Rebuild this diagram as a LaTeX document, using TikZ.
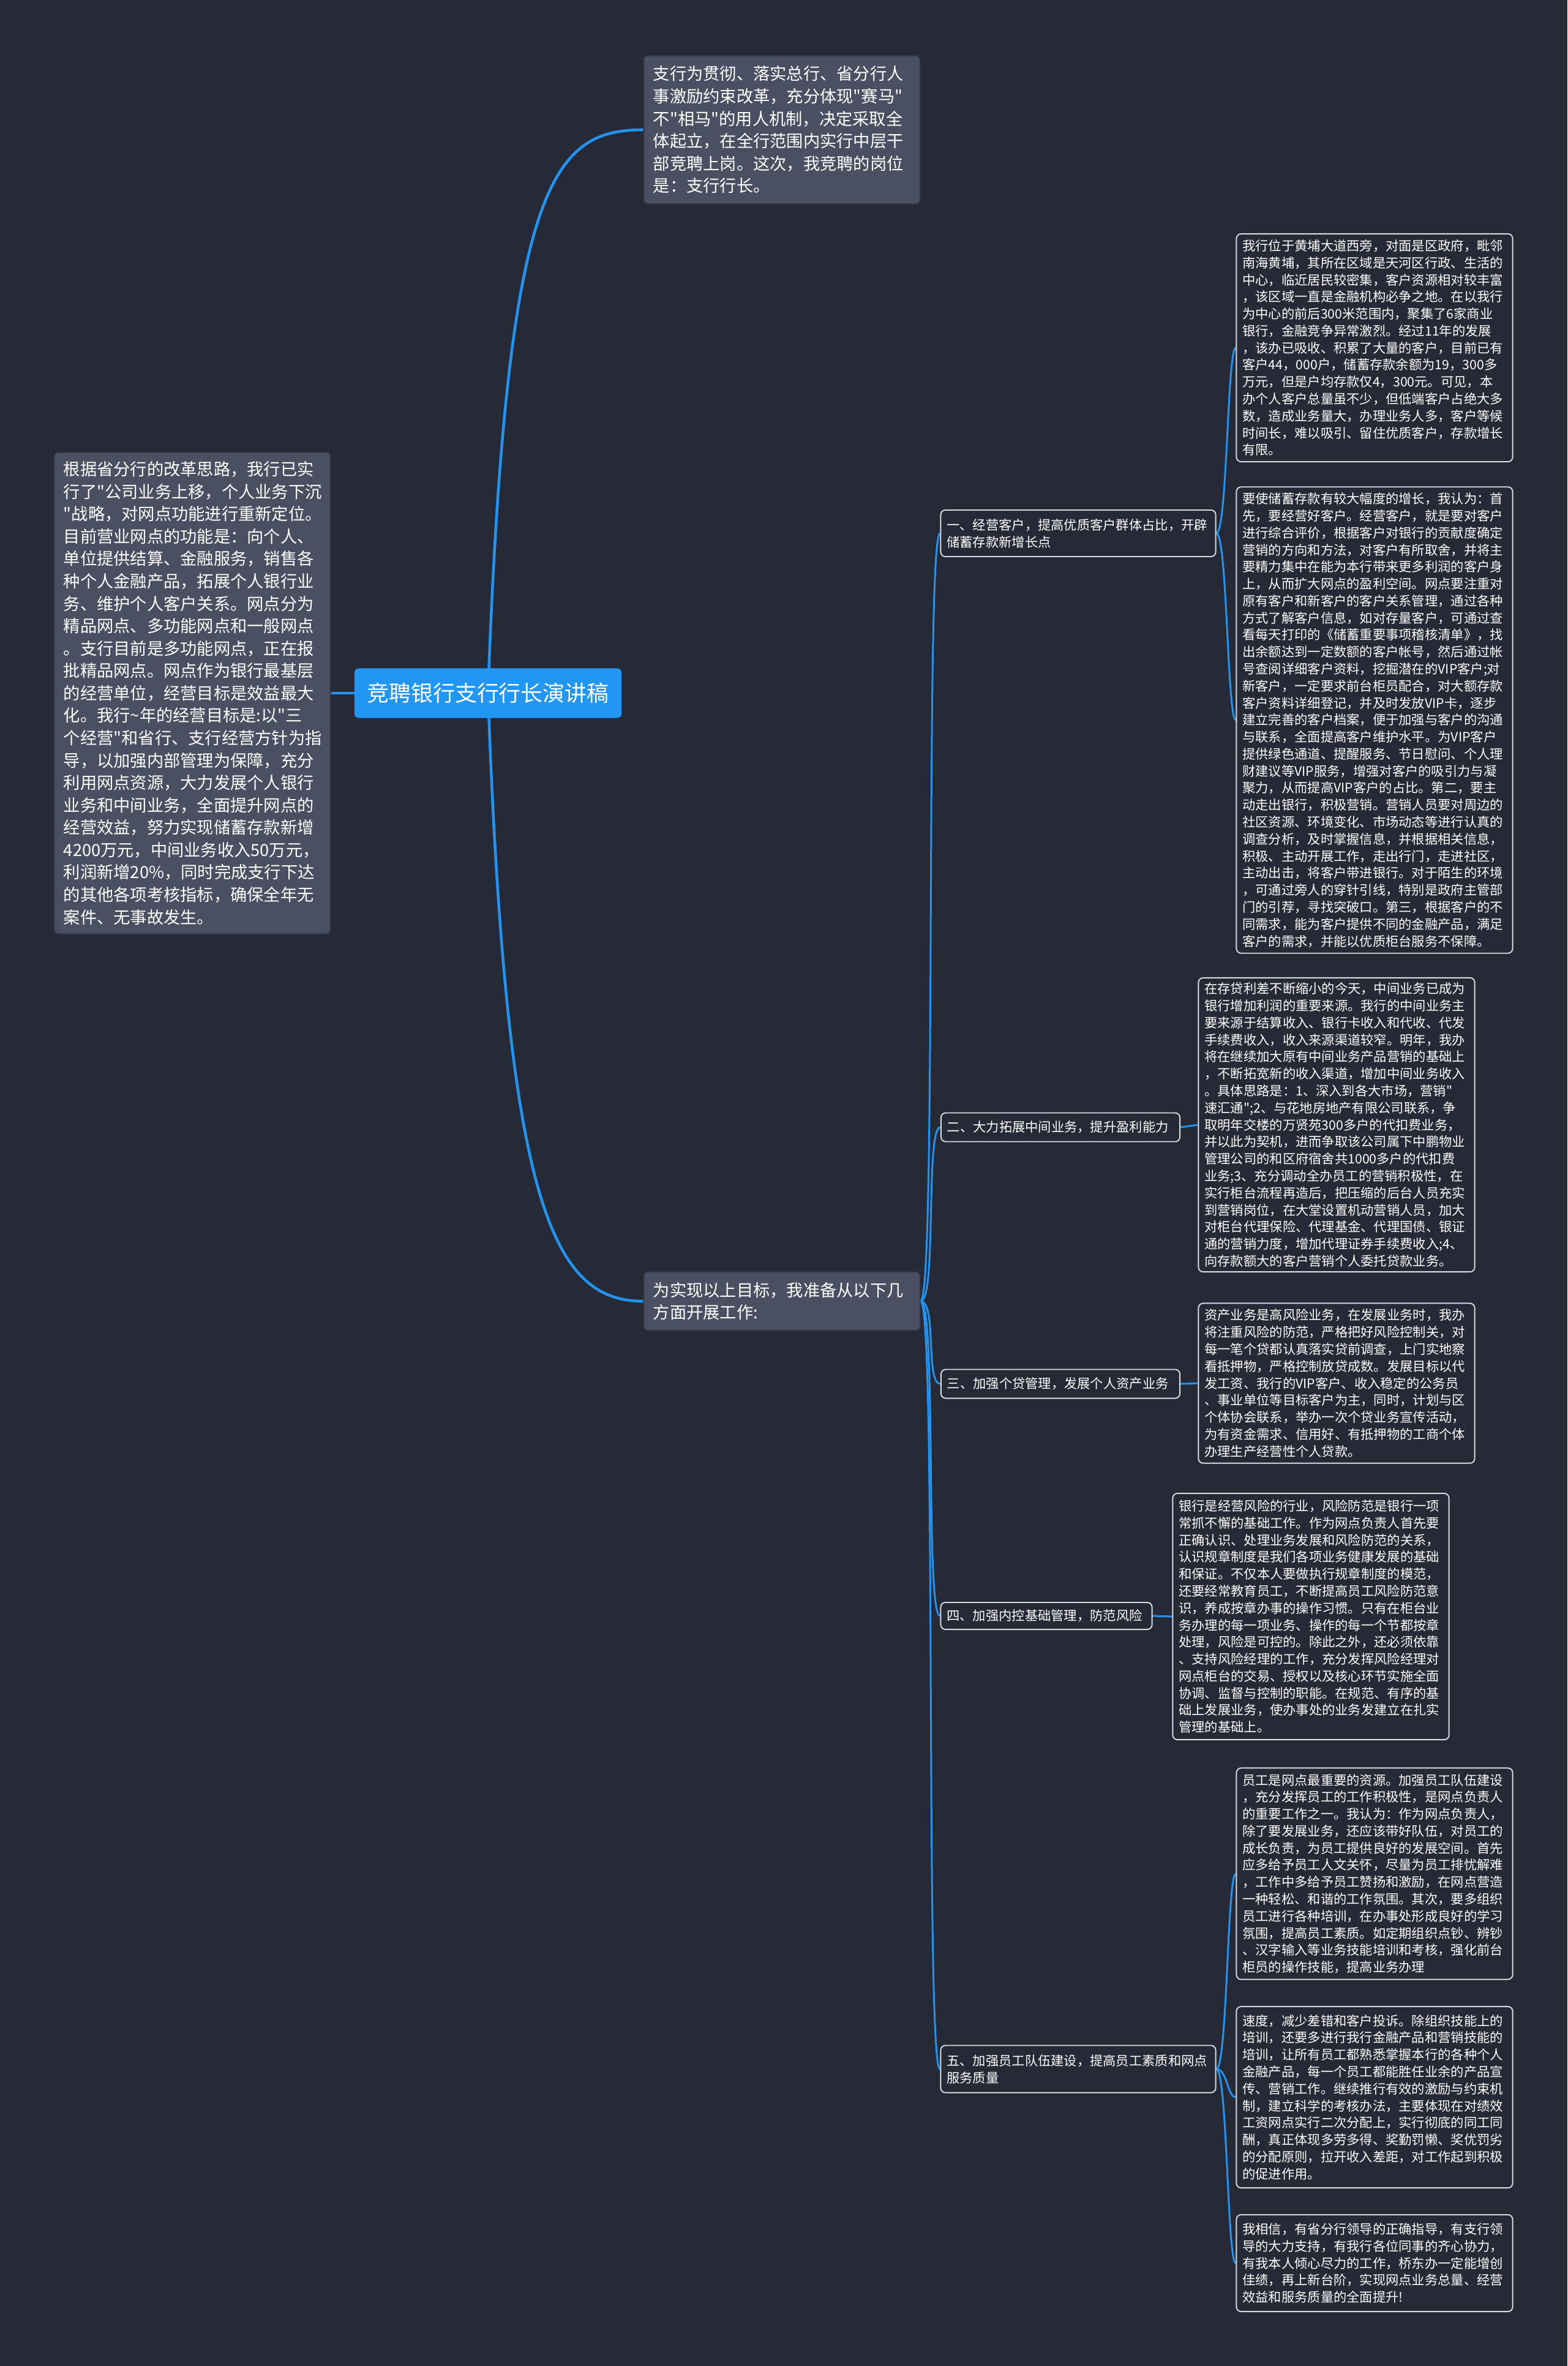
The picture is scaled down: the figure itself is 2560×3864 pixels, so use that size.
\documentclass[tikz,border=0pt]{standalone}
\usepackage{fontspec}
\setmainfont{Noto Sans CJK SC}[Ligatures=TeXOff]
\usetikzlibrary{backgrounds}

\definecolor{bgnavy}{HTML}{262A37}
\definecolor{hubgray}{HTML}{4A5061}
\definecolor{hubedge}{HTML}{333846}
\definecolor{rootblue}{HTML}{2196F3}
\definecolor{linkblue}{HTML}{2393F0}
\definecolor{leafedge}{HTML}{D8DADF}

\begin{document}
\begin{tikzpicture}[x=0.01cm,y=-0.01cm,
  root/.style={fill=rootblue,rounded corners=2pt,text=white,font=\fontsize{10.2pt}{12pt}\selectfont,minimum width=4.36cm,minimum height=0.81cm,inner sep=0pt},
  hub/.style={draw=hubedge,line width=0.5pt,fill=hubgray,rounded corners=2pt,text=white,align=left,font=\fontsize{7.75pt}{10.4pt}\selectfont,text width=4.2cm,inner xsep=0.155cm,inner ysep=0pt},
  topic/.style={draw=leafedge,line width=0.55pt,fill=bgnavy,rounded corners=2.2pt,text=white,align=left,font=\fontsize{6.05pt}{7.9pt}\selectfont,inner xsep=0.1cm,inner ysep=0pt},
  leaf/.style={topic,text width=4.31cm},
  link/.style={draw=linkblue,line width=1.3pt},
  twig/.style={draw=linkblue,line width=0.85pt}
]
% centre and first level
\node[root] (root) at (797,1132) {竞聘银行支行行长演讲稿};
\node[hub,minimum height=2.42cm] (intro) at (1277,212) {支行为贯彻、落实总行、省分行人\\
事激励约束改革，充分体现"赛马"\\
不"相马"的用人机制，决定采取全\\
体起立，在全行范围内实行中层干\\
部竞聘上岗。这次，我竞聘的岗位\\
是：支行行长。};
\node[hub,minimum height=7.86cm] (mission) at (314,1132) {根据省分行的改革思路，我行已实\\
行了"公司业务上移，个人业务下沉\\
"战略，对网点功能进行重新定位。\\
目前营业网点的功能是：向个人、\\
单位提供结算、金融服务，销售各\\
种个人金融产品，拓展个人银行业\\
务、维护个人客户关系。网点分为\\
精品网点、多功能网点和一般网点\\
。支行目前是多功能网点，正在报\\
批精品网点。网点作为银行最基层\\
的经营单位，经营目标是效益最大\\
化。我行\textasciitilde 年的经营目标是:以"三\\
个经营"和省行、支行经营方针为指\\
导，以加强内部管理为保障，充分\\
利用网点资源，大力发展个人银行\\
业务和中间业务，全面提升网点的\\
经营效益，努力实现储蓄存款新增\\
4200万元，中间业务收入50万元，\\
利润新增20\%，同时完成支行下达\\
的其他各项考核指标，确保全年无\\
案件、无事故发生。};
\node[hub,minimum height=0.96cm] (plan) at (1277,2125) {为实现以上目标，我准备从以下几\\
方面开展工作:};

% five tasks
\node[topic,text width=4.29cm,minimum height=0.76cm] (t1) at (1761,871) {一、经营客户，提高优质客户群体占比，开辟\\
储蓄存款新增长点};
\node[topic,text width=3.70cm,minimum height=0.47cm] (t2) at (1732,1841) {二、大力拓展中间业务，提升盈利能力};
\node[topic,text width=3.70cm,minimum height=0.47cm] (t3) at (1732,2260) {三、加强个贷管理，发展个人资产业务};
\node[topic,text width=3.25cm,minimum height=0.44cm] (t4) at (1709,2639) {四、加强内控基础管理，防范风险};
\node[topic,text width=4.29cm,minimum height=0.77cm] (t5) at (1761,3379) {五、加强员工队伍建设，提高员工素质和网点\\
服务质量};

% details
\node[leaf,minimum height=3.72cm] (a1) at (2245,568) {我行位于黄埔大道西旁，对面是区政府，毗邻\\
南海黄埔，其所在区域是天河区行政、生活的\\
中心，临近居民较密集，客户资源相对较丰富\\
，该区域一直是金融机构必争之地。在以我行\\
为中心的前后300米范围内，聚集了6家商业\\
银行，金融竞争异常激烈。经过11年的发展\\
，该办已吸收、积累了大量的客户，目前已有\\
客户44，000户，储蓄存款余额为19，300多\\
万元，但是户均存款仅4，300元。可见，本\\
办个人客户总量虽不少，但低端客户占绝大多\\
数，造成业务量大，办理业务人多，客户等候\\
时间长，难以吸引、留住优质客户，存款增长\\
有限。};
\node[leaf,minimum height=7.61cm] (a2) at (2245,1176) {要使储蓄存款有较大幅度的增长，我认为：首\\
先，要经营好客户。经营客户，就是要对客户\\
进行综合评价，根据客户对银行的贡献度确定\\
营销的方向和方法，对客户有所取舍，并将主\\
要精力集中在能为本行带来更多利润的客户身\\
上，从而扩大网点的盈利空间。网点要注重对\\
原有客户和新客户的客户关系管理，通过各种\\
方式了解客户信息，如对存量客户，可通过查\\
看每天打印的《储蓄重要事项稽核清单》，找\\
出余额达到一定数额的客户帐号，然后通过帐\\
号查阅详细客户资料，挖掘潜在的VIP客户;对\\
新客户，一定要求前台柜员配合，对大额存款\\
客户资料详细登记，并及时发放VIP卡，逐步\\
建立完善的客户档案，便于加强与客户的沟通\\
与联系，全面提高客户维护水平。为VIP客户\\
提供绿色通道、提醒服务、节日慰问、个人理\\
财建议等VIP服务，增强对客户的吸引力与凝\\
聚力，从而提高VIP客户的占比。第二，要主\\
动走出银行，积极营销。营销人员要对周边的\\
社区资源、环境变化、市场动态等进行认真的\\
调查分析，及时掌握信息，并根据相关信息，\\
积极、主动开展工作，走出行门，走进社区，\\
主动出击，将客户带进银行。对于陌生的环境\\
，可通过旁人的穿针引线，特别是政府主管部\\
门的引荐，寻找突破口。第三，根据客户的不\\
同需求，能为客户提供不同的金融产品，满足\\
客户的需求，并能以优质柜台服务不保障。};
\node[leaf,minimum height=4.80cm] (b) at (2183,1837) {在存贷利差不断缩小的今天，中间业务已成为\\
银行增加利润的重要来源。我行的中间业务主\\
要来源于结算收入、银行卡收入和代收、代发\\
手续费收入，收入来源渠道较窄。明年，我办\\
将在继续加大原有中间业务产品营销的基础上\\
，不断拓宽新的收入渠道，增加中间业务收入\\
。具体思路是：1、深入到各大市场，营销"\\
速汇通";2、与花地房地产有限公司联系，争\\
取明年交楼的万贤苑300多户的代扣费业务，\\
并以此为契机，进而争取该公司属下中鹏物业\\
管理公司的和区府宿舍共1000多户的代扣费\\
业务;3、充分调动全办员工的营销积极性，在\\
实行柜台流程再造后，把压缩的后台人员充实\\
到营销岗位，在大堂设置机动营销人员，加大\\
对柜台代理保险、代理基金、代理国债、银证\\
通的营销力度，增加代理证券手续费收入;4、\\
向存款额大的客户营销个人委托贷款业务。};
\node[leaf,minimum height=2.61cm] (c) at (2183,2259) {资产业务是高风险业务，在发展业务时，我办\\
将注重风险的防范，严格把好风险控制关，对\\
每一笔个贷都认真落实贷前调查，上门实地察\\
看抵押物，严格控制放贷成数。发展目标以代\\
发工资、我行的VIP客户、收入稳定的公务员\\
、事业单位等目标客户为主，同时，计划与区\\
个体协会联系，举办一次个贷业务宣传活动，\\
为有资金需求、信用好、有抵押物的工商个体\\
办理生产经营性个人贷款。};
\node[leaf,minimum height=4.02cm] (d) at (2141,2640) {银行是经营风险的行业，风险防范是银行一项\\
常抓不懈的基础工作。作为网点负责人首先要\\
正确认识、处理业务发展和风险防范的关系，\\
认识规章制度是我们各项业务健康发展的基础\\
和保证。不仅本人要做执行规章制度的模范，\\
还要经常教育员工，不断提高员工风险防范意\\
识，养成按章办事的操作习惯。只有在柜台业\\
务办理的每一项业务、操作的每一个节都按章\\
处理，风险是可控的。除此之外，还必须依靠\\
、支持风险经理的工作，充分发挥风险经理对\\
网点柜台的交易、授权以及核心环节实施全面\\
协调、监督与控制的职能。在规范、有序的基\\
础上发展业务，使办事处的业务发建立在扎实\\
管理的基础上。};
\node[leaf,minimum height=3.45cm] (e1) at (2245,3060) {员工是网点最重要的资源。加强员工队伍建设\\
，充分发挥员工的工作积极性，是网点负责人\\
的重要工作之一。我认为：作为网点负责人，\\
除了要发展业务，还应该带好队伍，对员工的\\
成长负责，为员工提供良好的发展空间。首先\\
应多给予员工人文关怀，尽量为员工排忧解难\\
，工作中多给予员工赞扬和激励，在网点营造\\
一种轻松、和谐的工作氛围。其次，要多组织\\
员工进行各种培训，在办事处形成良好的学习\\
氛围，提高员工素质。如定期组织点钞、辨钞\\
、汉字输入等业务技能培训和考核，强化前台\\
柜员的操作技能，提高业务办理};
\node[leaf,minimum height=2.96cm] (e2) at (2245,3425) {速度，减少差错和客户投诉。除组织技能上的\\
培训，还要多进行我行金融产品和营销技能的\\
培训，让所有员工都熟悉掌握本行的各种个人\\
金融产品，每一个员工都能胜任业余的产品宣\\
传、营销工作。继续推行有效的激励与约束机\\
制，建立科学的考核办法，主要体现在对绩效\\
工资网点实行二次分配上，实行彻底的同工同\\
酬，真正体现多劳多得、奖勤罚懒、奖优罚劣\\
的分配原则，拉开收入差距，对工作起到积极\\
的促进作用。};
\node[leaf,minimum height=1.58cm] (e3) at (2245,3696) {我相信，有省分行领导的正确指导，有支行领\\
导的大力支持，有我行各位同事的齐心协力，\\
有我本人倾心尽力的工作，桥东办一定能增创\\
佳绩，再上新台阶，实现网点业务总量、经营\\
效益和服务质量的全面提升!};

% connectors
\begin{scope}[on background layer]
  \fill[bgnavy] (0,0) rectangle (2560,3864);
  \draw[link] (root.center) -- (mission.east);
  \draw[link] (root.center) .. controls +(30,-830) and +(-150,0) .. (intro.west);
  \draw[link] (root.center) .. controls +(30,830) and +(-150,0) .. (plan.west);
  \foreach \t in {t1,t2,t3,t4,t5}
    \draw[twig] (plan.east) .. controls +(27,0) and +(-25,0) .. (\t.west);
  \draw[twig] (t1.east) .. controls +(18,0) and +(-14,0) .. (a1.west);
  \draw[twig] (t1.east) .. controls +(18,0) and +(-14,0) .. (a2.west);
  \draw[twig] (t2.east) -- (b.west);
  \draw[twig] (t3.east) -- (c.west);
  \draw[twig] (t4.east) -- (d.west);
  \draw[twig] (t5.east) .. controls +(18,0) and +(-14,0) .. (e1.west);
  \draw[twig] (t5.east) .. controls +(18,0) and +(-14,0) .. (e2.west);
  \draw[twig] (t5.east) .. controls +(18,0) and +(-14,0) .. (e3.west);
\end{scope}
\end{tikzpicture}
\end{document}
